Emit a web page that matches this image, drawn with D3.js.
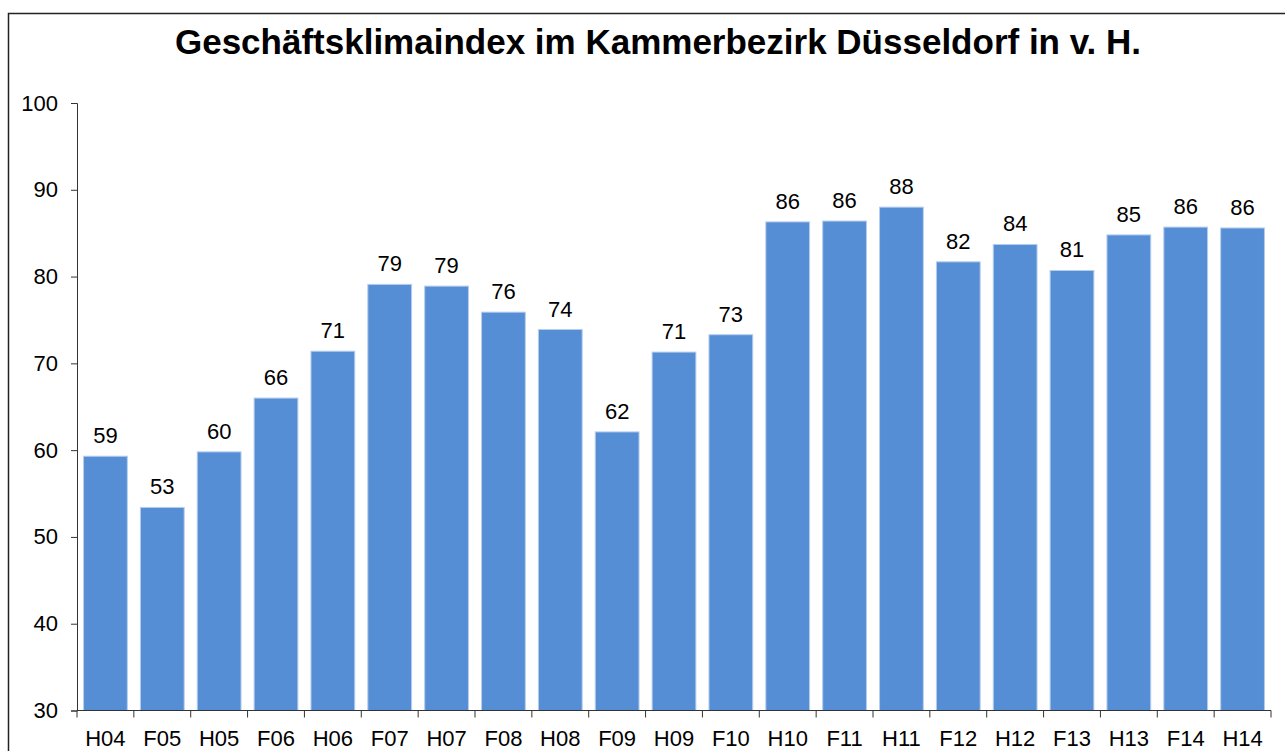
<!DOCTYPE html>
<html>
<head>
<meta charset="utf-8">
<script src="https://cdn.jsdelivr.net/npm/d3@7"></script>
<style>
  body { margin: 0; background: #fff; }
  svg { display: block; font-family: "Liberation Sans", Arial, sans-serif; }
</style>
</head>
<body>
<svg id="chart" width="1285" height="751"></svg>
<script>
// Halbjahre (F = Frühjahr, H = Herbst)
const periods = ['H04', 'F05', 'H05', 'F06', 'H06', 'F07', 'H07', 'F08', 'H08', 'F09', 'H09',
                 'F10', 'H10', 'F11', 'H11', 'F12', 'H12', 'F13', 'H13', 'F14', 'H14'];
const values = [59.3, 53.4, 59.8, 66.0, 71.4, 79.1, 78.9, 75.9, 73.9, 62.1, 71.3,
                73.3, 86.3, 86.4, 88.0, 81.7, 83.7, 80.7, 84.8, 85.7, 85.6];
const yTicks = [30, 40, 50, 60, 70, 80, 90, 100];
const title = 'Geschäftsklimaindex im Kammerbezirk Düsseldorf in v. H.';

const svg = d3.select('#chart');
const plotLeft = 77, plotRight = 1271, plotTop = 103, plotBottom = 710.5;

// Rahmen
svg.append('rect')
    .attr('x', 8.5).attr('y', 13.5)
    .attr('width', 1300).attr('height', 760)
    .attr('fill', 'none')
    .attr('stroke', '#222')
    .attr('stroke-width', 1.5);

svg.append('text')
    .attr('x', 658)
    .attr('y', 54)
    .attr('text-anchor', 'middle')
    .attr('font-size', 35)
    .attr('font-weight', 'bold')
    .text(title);

const x = d3.scaleBand().domain(periods).range([plotLeft, plotRight]).paddingInner(0.23).paddingOuter(0.115);
const y = d3.scaleLinear().domain([30, 100]).range([plotBottom, plotTop]);

// Balken
svg.append('g').selectAll('rect')
    .data(values)
    .join('rect')
    .attr('x', (d, i) => x(periods[i]))
    .attr('y', d => y(d))
    .attr('width', x.bandwidth())
    .attr('height', d => y(30) - y(d))
    .attr('fill', '#558ed5')
    .attr('stroke', '#b7cdee')
    .attr('stroke-width', 1);

// Werte über den Balken
svg.append('g').selectAll('text')
    .data(values)
    .join('text')
    .attr('x', (d, i) => x(periods[i]) + x.bandwidth() / 2)
    .attr('y', d => y(d) - 13)
    .attr('text-anchor', 'middle')
    .attr('font-size', 22)
    .attr('fill', '#000')
    .text(d => d3.format('.0f')(d));

// y-Achse
const yAxis = svg.append('g')
    .attr('transform', `translate(${plotLeft},0)`)
    .call(d3.axisLeft(y).tickValues(yTicks).tickSize(6).tickPadding(13).tickFormat(d3.format('d')));
yAxis.selectAll('text').attr('font-size', 22).attr('fill', '#000');
yAxis.attr('font-family', null).attr('font-size', null);
yAxis.selectAll('line, path').attr('stroke', '#333');

// x-Achse, Striche an den Kategoriegrenzen
const xAxis = svg.append('g').attr('transform', `translate(0,${plotBottom})`);
xAxis.append('line')
    .attr('x1', plotLeft).attr('x2', plotRight)
    .attr('stroke', '#333');
const step = x.step();
xAxis.selectAll('.tk')
    .data(d3.range(periods.length + 1))
    .join('line')
    .attr('class', 'tk')
    .attr('x1', i => plotLeft + i * step).attr('x2', i => plotLeft + i * step)
    .attr('y1', 0).attr('y2', 7)
    .attr('stroke', '#333');
xAxis.selectAll('.lbl')
    .data(periods)
    .join('text')
    .attr('class', 'lbl')
    .attr('x', d => x(d) + x.bandwidth() / 2)
    .attr('y', 35)
    .attr('text-anchor', 'middle')
    .attr('font-size', 22)
    .text(d => d);
</script>
</body>
</html>
